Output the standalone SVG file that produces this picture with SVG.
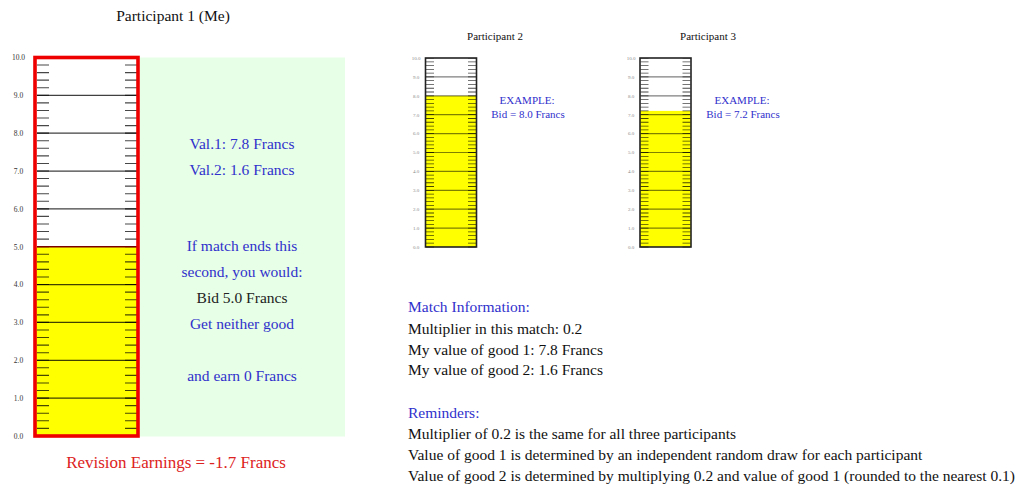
<svg xmlns="http://www.w3.org/2000/svg" width="1016" height="490" viewBox="0 0 1016 490">
  <style>
    text { font-family: "Liberation Serif", "Times New Roman", serif; }
    .title { font-size: 15.5px; fill: #111; text-anchor: middle; }
    .ttl-sm { font-size: 11px; fill: #111; text-anchor: middle; }
    .info { font-size: 15.5px; fill: #111; }
    .blue { fill: #3030cc; }
    .dark { fill: #222; }
    .panel-txt { font-size: 15.5px; text-anchor: middle; }
    .ex { font-size: 11px; fill: #3030cc; text-anchor: middle; }
    .lbl { font-size: 7.5px; fill: #333; text-anchor: middle; }
    .lbl-sm { font-size: 5px; fill: #888; text-anchor: middle; }
    .tick { stroke: #000; stroke-opacity: 0.72; fill: none; }
    .major { stroke: #000; stroke-opacity: 0.75; stroke-width: 1.2; }
    .major-sm { stroke: #000; stroke-opacity: 0.5; stroke-width: 1.2; }
    .fill { fill: #ffff00; }
  </style>

  <!-- Participant 1 gauge with value panel -->
  <g id="participant1">
    <text class="title" x="173" y="21">Participant 1 (Me)</text>
    <rect x="140" y="57.5" width="205" height="379" fill="#e6ffe6"/>
    <rect x="35" y="57.5" width="103" height="378.5" fill="#ffffff"/>
    <rect class="fill" x="35" y="246.75" width="103" height="189.25"/>
    <!-- minor ticks every 0.2 -->
    <line class="tick" x1="43" y1="436.5" x2="43" y2="57" stroke-width="12" stroke-dasharray="1.1 6.47"/>
    <line class="tick" x1="131" y1="436.5" x2="131" y2="57" stroke-width="12" stroke-dasharray="1.1 6.47"/>
    <!-- major lines every 1.0 -->
    <path class="major" d="M37 398.15H137M37 360.3H137M37 322.45H137M37 284.6H137M37 208.9H137M37 171.05H137M37 133.2H137M37 95.35H137"/>
    <line x1="37" y1="246.75" x2="137" y2="246.75" stroke="#7a0000" stroke-width="1.4"/>
    <rect x="35" y="57.5" width="103" height="378.5" fill="none" stroke="#ee0000" stroke-width="3.6"/>
    <g class="lbl">
      <text x="18.5" y="60.3">10.0</text>
      <text x="18.5" y="98.2">9.0</text>
      <text x="18.5" y="136">8.0</text>
      <text x="18.5" y="173.9">7.0</text>
      <text x="18.5" y="211.7">6.0</text>
      <text x="18.5" y="249.6">5.0</text>
      <text x="18.5" y="287.4">4.0</text>
      <text x="18.5" y="325.3">3.0</text>
      <text x="18.5" y="363.1">2.0</text>
      <text x="18.5" y="401">1.0</text>
      <text x="18.5" y="438.8">0.0</text>
    </g>
    <text class="panel-txt blue" x="242" y="149">Val.1: 7.8 Francs</text>
    <text class="panel-txt blue" x="242" y="175">Val.2: 1.6 Francs</text>
    <text class="panel-txt blue" x="242" y="251">If match ends this</text>
    <text class="panel-txt blue" x="242" y="277">second, you would:</text>
    <text class="panel-txt dark" x="242" y="303">Bid 5.0 Francs</text>
    <text class="panel-txt blue" x="242" y="329">Get neither good</text>
    <text class="panel-txt blue" x="242" y="381">and earn 0 Francs</text>
    <text x="176" y="468" font-size="17px" fill="#dd2222" text-anchor="middle">Revision Earnings = -1.7 Francs</text>
  </g>

  <!-- Participant 2 gauge -->
  <g id="participant2">
    <text class="ttl-sm" x="495" y="40">Participant 2</text>
    <rect x="425.5" y="58" width="51" height="189" fill="#ffffff"/>
    <rect class="fill" x="425.5" y="95.8" width="51" height="151.2"/>
    <line class="tick" x1="430" y1="247.4" x2="430" y2="58" stroke-width="8" stroke-dasharray="0.8 2.98"/>
    <line class="tick" x1="472" y1="247.4" x2="472" y2="58" stroke-width="8" stroke-dasharray="0.8 2.98"/>
    <path class="major-sm" d="M426 228.1H476M426 209.2H476M426 190.3H476M426 171.4H476M426 152.5H476M426 133.6H476M426 114.7H476M426 95.8H476M426 76.9H476"/>
    <rect x="425.5" y="58" width="51" height="189" fill="none" stroke="#222" stroke-width="1.6"/>
    <g class="lbl-sm">
      <text x="416" y="59.8">10.0</text>
      <text x="416" y="78.7">9.0</text>
      <text x="416" y="97.6">8.0</text>
      <text x="416" y="116.5">7.0</text>
      <text x="416" y="135.4">6.0</text>
      <text x="416" y="154.3">5.0</text>
      <text x="416" y="173.2">4.0</text>
      <text x="416" y="192.1">3.0</text>
      <text x="416" y="211">2.0</text>
      <text x="416" y="229.9">1.0</text>
      <text x="416" y="248.8">0.0</text>
    </g>
    <text class="ex" x="527" y="104">EXAMPLE:</text>
    <text class="ex" x="528" y="118">Bid = 8.0 Francs</text>
  </g>

  <!-- Participant 3 gauge -->
  <g id="participant3">
    <text class="ttl-sm" x="708" y="40">Participant 3</text>
    <rect x="640" y="58" width="51" height="189" fill="#ffffff"/>
    <rect class="fill" x="640" y="110.9" width="51" height="136.1"/>
    <line class="tick" x1="644.5" y1="247.4" x2="644.5" y2="58" stroke-width="8" stroke-dasharray="0.8 2.98"/>
    <line class="tick" x1="686.5" y1="247.4" x2="686.5" y2="58" stroke-width="8" stroke-dasharray="0.8 2.98"/>
    <path class="major-sm" d="M640.5 228.1H690.5M640.5 209.2H690.5M640.5 190.3H690.5M640.5 171.4H690.5M640.5 152.5H690.5M640.5 133.6H690.5M640.5 114.7H690.5M640.5 95.8H690.5M640.5 76.9H690.5"/>
    <rect x="640" y="58" width="51" height="189" fill="none" stroke="#222" stroke-width="1.6"/>
    <g class="lbl-sm">
      <text x="631" y="59.8">10.0</text>
      <text x="631" y="78.7">9.0</text>
      <text x="631" y="97.6">8.0</text>
      <text x="631" y="116.5">7.0</text>
      <text x="631" y="135.4">6.0</text>
      <text x="631" y="154.3">5.0</text>
      <text x="631" y="173.2">4.0</text>
      <text x="631" y="192.1">3.0</text>
      <text x="631" y="211">2.0</text>
      <text x="631" y="229.9">1.0</text>
      <text x="631" y="248.8">0.0</text>
    </g>
    <text class="ex" x="742" y="104">EXAMPLE:</text>
    <text class="ex" x="743" y="118">Bid = 7.2 Francs</text>
  </g>

  <!-- Match information and reminders -->
  <g id="match-info">
    <text class="info blue" x="408" y="312">Match Information:</text>
    <text class="info" x="408" y="334">Multiplier in this match: 0.2</text>
    <text class="info" x="408" y="354.5">My value of good 1: 7.8 Francs</text>
    <text class="info" x="408" y="375">My value of good 2: 1.6 Francs</text>
  </g>
  <g id="reminders">
    <text class="info blue" x="408" y="418">Reminders:</text>
    <text class="info" x="408" y="439">Multiplier of 0.2 is the same for all three participants</text>
    <text class="info" x="408" y="460">Value of good 1 is determined by an independent random draw for each participant</text>
    <text class="info" x="408" y="481">Value of good 2 is determined by multiplying 0.2 and value of good 1 (rounded to the nearest 0.1)</text>
  </g>
</svg>
